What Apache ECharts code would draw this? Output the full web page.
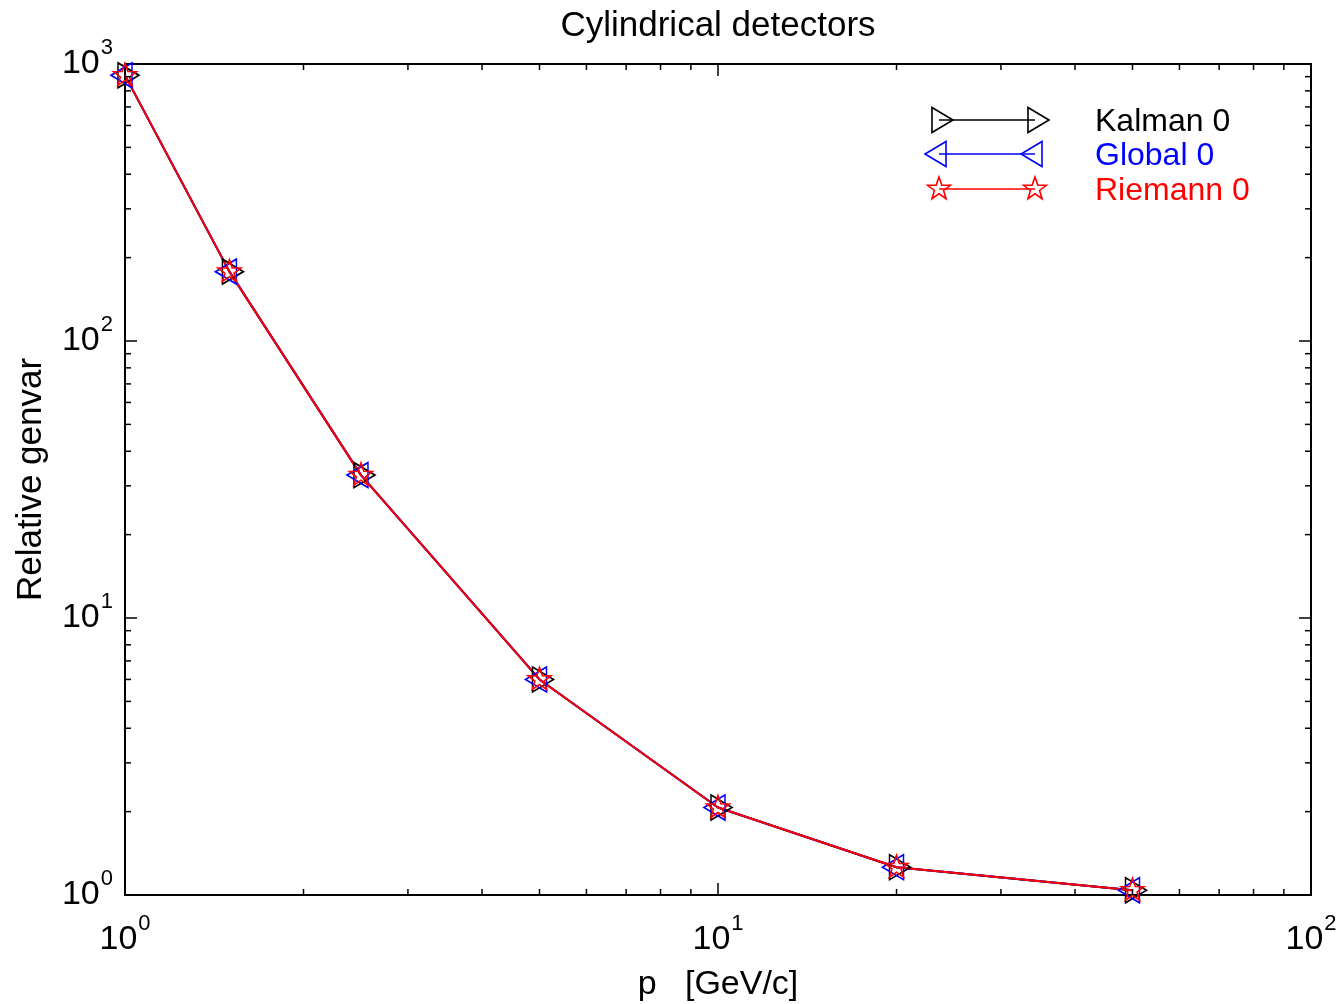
<!DOCTYPE html>
<html><head><meta charset="utf-8">
<script src="https://cdn.jsdelivr.net/npm/echarts@6/dist/echarts.min.js"></script>
<style>html,body{margin:0;padding:0;background:#fff}#c{width:1341px;height:1004px}</style>
</head><body><div id="c"></div>
<script>
// ---- data ----
const momenta = [1, 1.5, 2.5, 5, 10, 20, 50];
const kalman0 = [910, 178, 32.8, 6.0, 2.07, 1.26, 1.04];
const global0 = [910, 178, 32.8, 6.0, 2.07, 1.26, 1.04];
const riemann0 = [910, 178, 32.8, 6.0, 2.07, 1.26, 1.04];
const seriesNames = ['Kalman 0', 'Global 0', 'Riemann 0'];
const xRange = [1, 100];
const yRange = [1, 1000];
const minorMultipliers = [2, 3, 4, 5, 6, 7, 8, 9];
const titleText = 'Cylindrical detectors';
const xAxisTitle = 'p   [GeV/c]';
const yAxisTitle = 'Relative genvar';

// ---- style ----
const FONT = '"Liberation Sans", Arial, Helvetica, sans-serif';
const BLACK = '#000000', BLUE = '#0000ff', RED = '#ff0000';
const TRI_W = 21, TRI_H = 25;
const triRight = 'path://M0,0L' + TRI_W + ',' + (TRI_H / 2) + 'L0,' + TRI_H + 'Z';
const triLeft = 'path://M' + TRI_W + ',0L0,' + (TRI_H / 2) + 'L' + TRI_W + ',' + TRI_H + 'Z';
function starPoints(cx, cy, R, r) {
  const pts = [];
  for (let k = 0; k < 10; k++) {
    const a = -Math.PI / 2 + k * Math.PI / 5;
    const rad = k % 2 === 0 ? R : r;
    pts.push([cx + rad * Math.cos(a), cy + rad * Math.sin(a)]);
  }
  return pts;
}
const starSymbol = 'path://' + starPoints(0, 0, 12, 4.8).map((p, i) => (i ? 'L' : 'M') + p[0].toFixed(3) + ',' + p[1].toFixed(3)).join('') + 'Z';

function supLabel(v) {
  const e = Math.round(Math.log10(v));
  return '{b|10}{s|' + e + '}';
}
const labelRich = {
  b: { fontSize: 34, fontFamily: FONT, color: BLACK, lineHeight: 34 },
  s: { fontSize: 22, fontFamily: FONT, color: BLACK, lineHeight: 34, padding: [0, 0, 32, 1] }
};

function mkSeries(name, vals, color, symbol, size, offset) {
  return {
    name: name, type: 'line',
    data: momenta.map((p, i) => [p, vals[i]]),
    symbol: symbol, symbolSize: size, symbolOffset: offset, showSymbol: true,
    clip: false,
    lineStyle: { color: color, width: 2 },
    itemStyle: { color: 'rgba(0,0,0,0)', borderColor: color, borderWidth: 1.6 },
    emphasis: { disabled: true },
    animation: false
  };
}

const axisLineStyle = { color: BLACK, width: 2 };
const majorTick = { show: true, inside: true, length: 12, lineStyle: { color: BLACK, width: 1.5 } };

const chart = echarts.init(document.getElementById('c'), null, { renderer: 'canvas' });
chart.setOption({
  animation: false,
  backgroundColor: '#ffffff',
  grid: { left: 125, right: 30, top: 64, bottom: 109, containLabel: false, outerBoundsMode: 'none' },
  xAxis: [
    {
      type: 'log', logBase: 10, min: xRange[0], max: xRange[1], position: 'bottom',
      axisLine: { show: true, lineStyle: axisLineStyle },
      axisTick: majorTick,
      axisLabel: { show: true, margin: 28, formatter: supLabel, rich: labelRich },
      splitLine: { show: false },
      name: xAxisTitle, nameLocation: 'middle', nameGap: 90, nameMoveOverlap: false,
      nameTextStyle: { fontSize: 34, fontFamily: FONT, color: BLACK, verticalAlign: 'middle' }
    },
    {
      type: 'log', logBase: 10, min: xRange[0], max: xRange[1], position: 'top',
      axisLine: { show: true, lineStyle: axisLineStyle },
      axisTick: majorTick, axisLabel: { show: false }, splitLine: { show: false }
    }
  ],
  yAxis: [
    {
      type: 'log', logBase: 10, min: yRange[0], max: yRange[1], position: 'left',
      axisLine: { show: true, lineStyle: axisLineStyle },
      axisTick: majorTick,
      axisLabel: { show: true, margin: 12, formatter: supLabel, rich: labelRich },
      splitLine: { show: false },
      name: yAxisTitle, nameLocation: 'middle', nameGap: 94, nameRotate: 90, nameMoveOverlap: false,
      nameTextStyle: { fontSize: 35, fontFamily: FONT, color: BLACK, verticalAlign: 'middle', align: 'center' }
    },
    {
      type: 'log', logBase: 10, min: yRange[0], max: yRange[1], position: 'right',
      axisLine: { show: true, lineStyle: axisLineStyle },
      axisTick: majorTick, axisLabel: { show: false }, splitLine: { show: false }
    }
  ],
  series: [
    mkSeries(seriesNames[0], kalman0, BLACK, triRight, [TRI_W, TRI_H], [3.5, 0]),
    mkSeries(seriesNames[1], global0, BLUE, triLeft, [TRI_W, TRI_H], [-3.5, 0]),
    mkSeries(seriesNames[2], riemann0, RED, starSymbol, [23, 22], [0, -1])
  ]
});

// ---- minor ticks, title and legend as graphic elements ----
const g = [];
const xL = chart.convertToPixel({ xAxisIndex: 0 }, xRange[0]);
const xR = chart.convertToPixel({ xAxisIndex: 0 }, xRange[1]);
const yB = chart.convertToPixel({ yAxisIndex: 0 }, yRange[0]);
const yT = chart.convertToPixel({ yAxisIndex: 0 }, yRange[1]);
const MINOR = 6;
const tickStyle = { stroke: BLACK, lineWidth: 1.5 };
function minorValues(range) {
  const out = [];
  for (let d = Math.floor(Math.log10(range[0])); d < Math.ceil(Math.log10(range[1])); d++) {
    minorMultipliers.forEach(m => { const v = m * Math.pow(10, d); if (v > range[0] && v < range[1]) out.push(v); });
  }
  return out;
}
minorValues(xRange).forEach(v => {
  const px = chart.convertToPixel({ xAxisIndex: 0 }, v);
  g.push({ type: 'line', silent: true, z: 50, shape: { x1: px, y1: yB, x2: px, y2: yB - MINOR }, style: tickStyle });
  g.push({ type: 'line', silent: true, z: 50, shape: { x1: px, y1: yT, x2: px, y2: yT + MINOR }, style: tickStyle });
});
minorValues(yRange).forEach(v => {
  const py = chart.convertToPixel({ yAxisIndex: 0 }, v);
  g.push({ type: 'line', silent: true, z: 50, shape: { x1: xL, y1: py, x2: xL + MINOR, y2: py }, style: tickStyle });
  g.push({ type: 'line', silent: true, z: 50, shape: { x1: xR, y1: py, x2: xR - MINOR, y2: py }, style: tickStyle });
});

// title
g.push({ type: 'text', silent: true, z: 60, style: { x: 718, y: 26, text: titleText, fontSize: 35, fontFamily: FONT, fill: BLACK, align: 'center', verticalAlign: 'middle' } });

// legend
const legRows = [
  { name: seriesNames[0], color: BLACK, y: 120, kind: 'right' },
  { name: seriesNames[1], color: BLUE, y: 154, kind: 'left' },
  { name: seriesNames[2], color: RED, y: 189, kind: 'star' }
];
const legX1 = 939, legX2 = 1035, legTextX = 1095;
function legSymbol(kind, cx, cy, color) {
  let pts;
  if (kind === 'right') pts = [[cx - 7, cy - TRI_H / 2], [cx + 14, cy], [cx - 7, cy + TRI_H / 2]];
  else if (kind === 'left') pts = [[cx + 7, cy - TRI_H / 2], [cx - 14, cy], [cx + 7, cy + TRI_H / 2]];
  else pts = starPoints(cx, cy, 12, 4.8);
  return { type: 'polygon', silent: true, z: 61, shape: { points: pts }, style: { fill: 'none', stroke: color, lineWidth: 1.6 } };
}
legRows.forEach(r => {
  g.push({ type: 'line', silent: true, z: 60, shape: { x1: legX1, y1: r.y, x2: legX2, y2: r.y }, style: { stroke: r.color, lineWidth: 1.6 } });
  g.push(legSymbol(r.kind, legX1, r.y, r.color));
  g.push(legSymbol(r.kind, legX2, r.y, r.color));
  g.push({ type: 'text', silent: true, z: 60, style: { x: legTextX, y: r.y + 2, text: r.name, fontSize: 32, fontFamily: FONT, fill: r.color, align: 'left', verticalAlign: 'middle' } });
});

chart.setOption({ graphic: g });
</script>
</body></html>
